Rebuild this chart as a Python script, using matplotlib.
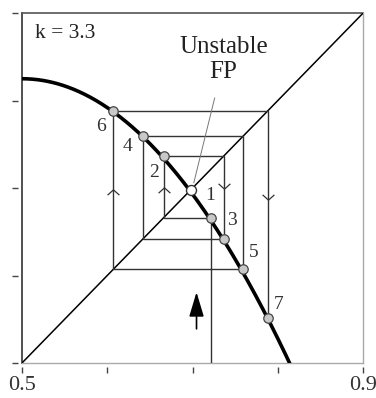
import numpy as np
import matplotlib
matplotlib.use("Agg")
import matplotlib.pyplot as plt
from matplotlib.path import Path

plt.rcParams['font.family'] = ['Liberation Serif', 'DejaVu Serif']

# Logistic map parameter and the plotted window
k = 3.3
x_lim = [0.5, 0.9]
ticks = [0.5, 0.6, 0.7, 0.8, 0.9]
tick_labels = ['0.5', '', '', '', '0.9']

# Orbit values of the iteration (point n sits at (orbit[n-1], orbit[n]))
orbit = [0.722, 0.666, 0.737, 0.642, 0.759, 0.607, 0.788, 0.551]
point_labels = ['1', '2', '3', '4', '5', '6', '7']
fixed_point = 0.698

# Direction markers along the cobweb verticals
up_chevron_x = [0.607, 0.666]
up_chevron_y = [0.6954, 0.698]
down_chevron_x = [0.737, 0.788]
down_chevron_y = [0.702, 0.690]

fig = plt.figure(figsize=(3.76, 3.98), dpi=100)
ax = fig.add_axes([0.0585, 0.088, 0.907, 0.879])
ax.set_xlim(x_lim)
ax.set_ylim(x_lim)

# frame
for s in ax.spines.values():
    s.set_visible(False)
ax.spines['left'].set_position(('outward', 3))
ax.spines['bottom'].set_position(('outward', 3))
ax.plot([0.5, 0.5], [0.5, 0.9], color='#333333', lw=1.2, clip_on=False)
ax.plot([0.5, 0.9], [0.9, 0.9], color='#555555', lw=1.2, clip_on=False)
ax.plot([0.5, 0.9], [0.5, 0.5], color='#aaaaaa', lw=1.0, clip_on=False)
ax.plot([0.9, 0.9], [0.5, 0.9], color='#aaaaaa', lw=1.0, clip_on=False)

ax.set_xticks(ticks)
ax.set_xticklabels(tick_labels)
ax.set_yticks(ticks)
ax.set_yticklabels([])
ax.tick_params(direction='out', length=4.5, width=1.0, color='#444444',
               labelsize=16, labelcolor='#333333', pad=2)

# diagonal y = x
ax.plot(x_lim, x_lim, color='black', lw=1.1)

# cobweb
cx = [orbit[0]]
cy = [0.5]
for i in range(len(orbit) - 1):
    cx += [orbit[i], orbit[i + 1]]
    cy += [orbit[i + 1], orbit[i + 1]]
cx = cx[:-1]
cy = cy[:-1]
ax.plot(cx, cy, color='#333333', lw=1.0, solid_joinstyle='miter')

# logistic map curve
xs = np.linspace(0.5, 0.9, 400)
ys = k * xs * (1 - xs)
ax.plot(xs, ys, color='black', lw=2.6, solid_capstyle='butt')

# orbit points
px = orbit[:-1]
py = orbit[1:]
ax.plot(px, py, 'o', ms=6.8, mfc='#c8c8c8', mec='#444444', mew=0.9, zorder=5)
offsets = [(-1, 16), (-7, -12), (6, 13), (-11, -7), (8, 12), (-9, -11), (8, 10)]
for x, y, lab, off in zip(px, py, point_labels, offsets):
    ax.annotate(lab, (x, y), xytext=off, textcoords='offset points',
                ha='center', va='center', fontsize=14, color='#333333')

# unstable fixed point
ax.plot([fixed_point], [fixed_point], 'o', ms=7.2, mfc='white', mec='#333333',
        mew=1.0, zorder=6)
ax.plot([0.726, 0.7015], [0.803, 0.706], color='#777777', lw=0.7)
ax.text(0.7365, 0.847, 'Unstable\nFP', ha='center', va='center',
        fontsize=18, color='#222222', linespacing=1.15)

# direction chevrons
up = Path([(-1, -0.45), (0, 0.45), (1, -0.45)],
          [Path.MOVETO, Path.LINETO, Path.LINETO])
down = Path([(-1, 0.45), (0, -0.45), (1, 0.45)],
            [Path.MOVETO, Path.LINETO, Path.LINETO])
ax.plot(up_chevron_x, up_chevron_y, ls='none', marker=up, ms=8.5,
        mfc='none', mec='#333333', mew=0.9)
ax.plot(down_chevron_x, down_chevron_y, ls='none', marker=down, ms=8.5,
        mfc='none', mec='#333333', mew=0.9)

# starting arrow
ax.annotate('', xy=(0.7047, 0.581), xytext=(0.7047, 0.539),
            arrowprops=dict(arrowstyle='-|>,head_length=1.5,head_width=0.45',
                            color='black', lw=1.2, shrinkA=0, shrinkB=0))

ax.text(0.5153, 0.877, 'k = 3.3', ha='left', va='center', fontsize=15.5,
        color='#222222')

fig.savefig('out.png', dpi=100)
